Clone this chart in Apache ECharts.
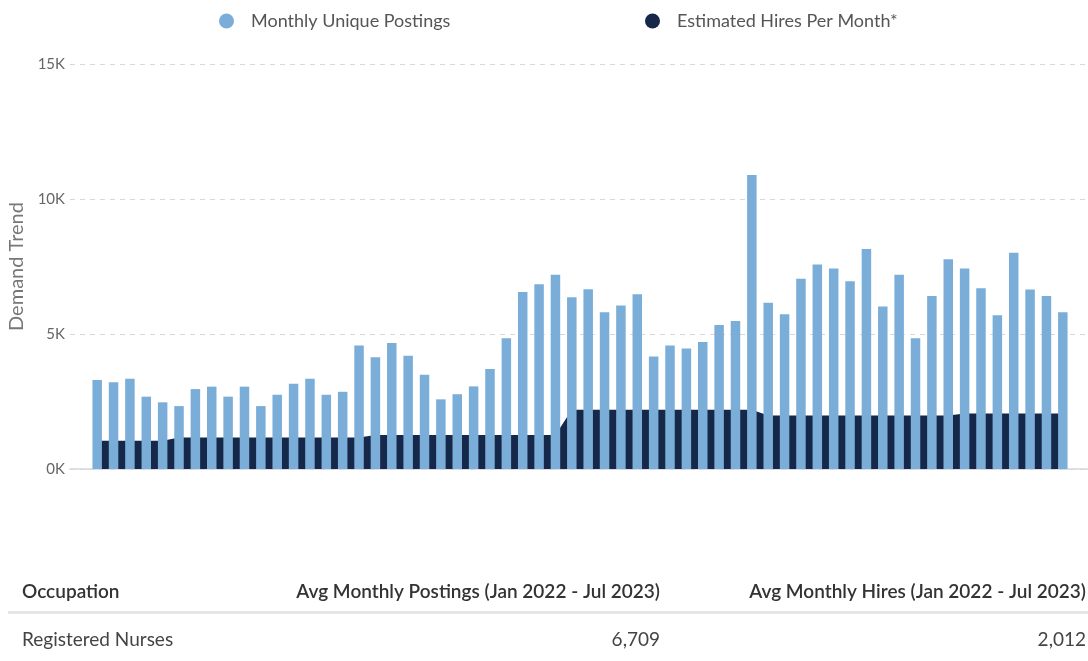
<!DOCTYPE html>
<html lang="en">

<head>
  <meta charset="UTF-8">
  <title>Demand Trend</title>
  <style>
    body { margin: 0; background: #fff; }
  </style>
</head>

<body>

  <div id="main" style="width: 1088px; height: 661px;"></div>
  <script src="https://cdn.jsdelivr.net/npm/echarts@6/dist/echarts.min.js"></script>
  <script type="text/javascript">
    // months Aug 2018 - Jul 2023
    var months = [
      'Aug 2018', 'Sep 2018', 'Oct 2018', 'Nov 2018', 'Dec 2018',
      'Jan 2019', 'Feb 2019', 'Mar 2019', 'Apr 2019', 'May 2019', 'Jun 2019', 'Jul 2019', 'Aug 2019', 'Sep 2019', 'Oct 2019', 'Nov 2019', 'Dec 2019',
      'Jan 2020', 'Feb 2020', 'Mar 2020', 'Apr 2020', 'May 2020', 'Jun 2020', 'Jul 2020', 'Aug 2020', 'Sep 2020', 'Oct 2020', 'Nov 2020', 'Dec 2020',
      'Jan 2021', 'Feb 2021', 'Mar 2021', 'Apr 2021', 'May 2021', 'Jun 2021', 'Jul 2021', 'Aug 2021', 'Sep 2021', 'Oct 2021', 'Nov 2021', 'Dec 2021',
      'Jan 2022', 'Feb 2022', 'Mar 2022', 'Apr 2022', 'May 2022', 'Jun 2022', 'Jul 2022', 'Aug 2022', 'Sep 2022', 'Oct 2022', 'Nov 2022', 'Dec 2022',
      'Jan 2023', 'Feb 2023', 'Mar 2023', 'Apr 2023', 'May 2023', 'Jun 2023', 'Jul 2023'
    ];

    var postings = [
      3300, 3210, 3340, 2680, 2470,
      2330, 2960, 3050, 2680, 3050, 2330, 2750, 3160, 3340, 2750, 2860,
      4570, 4140, 4670, 4190, 3490, 2580, 2770, 3060, 3700, 4840, 6560, 6840,
      7190, 6360, 6660, 5810, 6060, 6470, 4170, 4570, 4460, 4700, 5330, 5480,
      10890, 6160, 5730, 7050, 7570, 7430, 6950, 8150, 6020, 7190, 4840, 6410,
      7770, 7430, 6690, 5690, 8010, 6650, 6410, 5810
    ];

    var hires = [
      1050, 1050, 1050, 1050, 1050,
      1170, 1170, 1170, 1170, 1170, 1170, 1170, 1170, 1170, 1170, 1170, 1170,
      1260, 1260, 1260, 1260, 1260, 1260, 1260, 1260, 1260, 1260, 1260, 1260,
      2190, 2190, 2190, 2190, 2190, 2190, 2190, 2190, 2190, 2190, 2190, 2190,
      1985, 1985, 1985, 1985, 1985, 1985, 1985, 1985, 1985, 1985, 1985, 1985,
      2060, 2060, 2060, 2060, 2060, 2060, 2060
    ];

    var yTicks = [0, 5000, 10000, 15000];

    // summary table under the chart
    var tableHead = ['Occupation', 'Avg Monthly Postings (Jan 2022 - Jul 2023)', 'Avg Monthly Hires (Jan 2022 - Jul 2023)'];
    var tableRow = ['Registered Nurses', '6,709', '2,012'];

    var FONT = 'Lato, "Noto Sans", sans-serif';
    var BLUE = '#7aaed8';
    var NAVY = '#16284a';

    var myChart = echarts.init(document.getElementById('main'));

    var legendText = { fontFamily: FONT, fontSize: 18, color: '#555', padding: [0, 0, 0, 12] };

    var option = {
      animation: false,
      legend: [{
        left: 219,
        top: 12,
        padding: 0,
        icon: 'circle',
        itemWidth: 15,
        itemHeight: 15,
        textStyle: legendText,
        data: ['Monthly Unique Postings']
      }, {
        left: 645,
        top: 12,
        padding: 0,
        icon: 'circle',
        itemWidth: 15,
        itemHeight: 15,
        textStyle: legendText,
        data: ['Estimated Hires Per Month*']
      }],
      grid: [
        { left: 89, right: 17, top: 64, height: 405, outerBoundsMode: 'none' },
        { left: 70, right: 0, top: 64, height: 405, outerBoundsMode: 'none' }
      ],
      xAxis: [{
        type: 'category',
        gridIndex: 0,
        data: months,
        boundaryGap: true,
        axisLine: { show: false },
        axisTick: { show: false },
        axisLabel: { show: false }
      }, {
        // wider axis only for the baseline
        type: 'value',
        gridIndex: 1,
        min: 0,
        max: 1,
        axisLine: { show: true, lineStyle: { color: '#d6d6d6', width: 1.5 } },
        axisTick: { show: false },
        axisLabel: { show: false },
        splitLine: { show: false }
      }],
      yAxis: [{
        type: 'value',
        gridIndex: 0,
        min: 0,
        max: 15000,
        interval: 5000,
        axisLabel: { show: false },
        splitLine: { show: false }
      }, {
        type: 'value',
        gridIndex: 1,
        min: 0,
        max: 15000,
        interval: 5000,
        name: 'Demand Trend',
        nameLocation: 'middle',
        nameRotate: 90,
        nameGap: 41,
        nameTextStyle: { fontFamily: FONT, fontSize: 20, color: '#777' },
        axisLine: { show: false },
        axisTick: { show: false },
        axisLabel: {
          margin: 5,
          fontFamily: FONT,
          fontSize: 15,
          color: '#666',
          formatter: function (v) {
            return yTicks.indexOf(v) >= 0 ? (v / 1000) + 'K' : '';
          }
        },
        splitLine: { lineStyle: { color: '#d8d8d8', type: [5, 5], width: 1 } }
      }],
      series: [{
        name: 'Monthly Unique Postings',
        type: 'bar',
        xAxisIndex: 0,
        yAxisIndex: 0,
        data: postings,
        barWidth: '58%',
        itemStyle: { color: BLUE },
        z: 3
      }, {
        name: 'Estimated Hires Per Month*',
        type: 'line',
        xAxisIndex: 0,
        yAxisIndex: 0,
        data: hires,
        showSymbol: false,
        lineStyle: { color: NAVY, width: 0 },
        itemStyle: { color: NAVY },
        areaStyle: { color: NAVY, opacity: 1 },
        z: 2
      }],
      graphic: [
        { type: 'text', x: 22, y: 592, style: { text: tableHead[0], font: '600 19px ' + FONT, fill: '#333', align: 'left', verticalAlign: 'middle' } },
        { type: 'text', x: 660, y: 592, style: { text: tableHead[1], font: '600 19px ' + FONT, fill: '#333', align: 'right', verticalAlign: 'middle' } },
        { type: 'text', x: 1086, y: 592, style: { text: tableHead[2], font: '600 19px ' + FONT, fill: '#333', align: 'right', verticalAlign: 'middle' } },
        { type: 'rect', x: 8, y: 611, shape: { width: 1080, height: 3 }, style: { fill: '#e6e6e6' } },
        { type: 'text', x: 22, y: 640, style: { text: tableRow[0], font: '19px ' + FONT, fill: '#444', align: 'left', verticalAlign: 'middle' } },
        { type: 'text', x: 660, y: 640, style: { text: tableRow[1], font: '19px ' + FONT, fill: '#444', align: 'right', verticalAlign: 'middle' } },
        { type: 'text', x: 1086, y: 640, style: { text: tableRow[2], font: '19px ' + FONT, fill: '#444', align: 'right', verticalAlign: 'middle' } }
      ]
    };
    myChart.setOption(option);
  </script>
</body>

</html>
